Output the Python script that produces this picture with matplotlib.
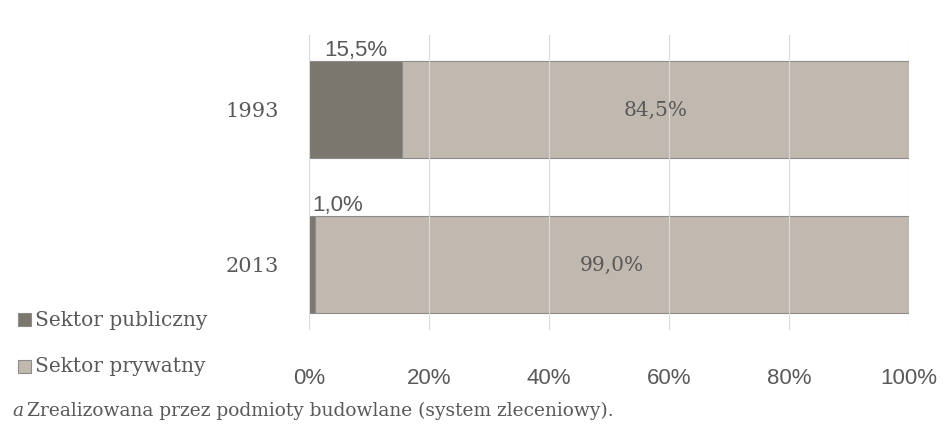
import matplotlib
matplotlib.use("Agg")
import matplotlib.pyplot as plt
import matplotlib.ticker as mticker
from matplotlib.patches import Rectangle

years = ["1993", "2013"]
publiczny = [15.5, 1.0]
prywatny = [84.5, 99.0]
series_names = ["Sektor publiczny", "Sektor prywatny"]
x_ticks = [0, 20, 40, 60, 80, 100]

DARK = "#7b766e"
LIGHT = "#c1b9af"
TEXT = "#595959"
SERIF = "DejaVu Serif"
SANS = "Liberation Sans"

fig = plt.figure(figsize=(9.44, 4.24), dpi=100)
ax = fig.add_axes([309 / 944, 1 - 330 / 424, 600 / 944, 295 / 424])

ypos = [1, 0]
h = 0.626
ax.barh(ypos, publiczny, height=h, color=DARK, edgecolor="#8c8c8c", linewidth=0.8, zorder=1)
ax.barh(ypos, prywatny, left=publiczny, height=h, color=LIGHT, edgecolor="#8c8c8c", linewidth=0.8, zorder=1)

for y, p, q in zip(ypos, publiczny, prywatny):
    lbl = f"{p:.1f}%".replace(".", ",")
    ax.text(max(p / 2, 0.0), y + h / 2, lbl, ha="center" if p > 5 else "left",
            va="bottom", fontsize=16, color=TEXT, family=SANS)
    ax.text(p + q / 2, y, f"{q:.1f}%".replace(".", ","), ha="center", va="center",
            fontsize=14.5, color=TEXT, family=SERIF)

ax.set_xlim(0, 100)
ax.set_ylim(-0.42, 1.484)
ax.set_xticks(x_ticks)
ax.xaxis.set_major_formatter(mticker.FuncFormatter(lambda v, _: f"{v:.0f}%"))
ax.set_yticks(ypos)
ax.set_yticklabels(years)
ax.tick_params(length=0, labelcolor=TEXT)
ax.tick_params(axis="x", pad=27, labelsize=16)
ax.tick_params(axis="y", pad=22, labelsize=15)
for lab in ax.get_xticklabels():
    lab.set_family(SANS)
for lab in ax.get_yticklabels():
    lab.set_family(SERIF)
ax.grid(axis="x", color="#d9d9d9", linewidth=0.8, zorder=2)
ax.set_axisbelow(False)
for s in ax.spines.values():
    s.set_visible(False)

# legend
for i, (name, col) in enumerate(zip(series_names, [DARK, LIGHT])):
    yc = 1 - (320 + 47 * i) / 424
    fig.patches.append(Rectangle((18 / 944, yc - 6 / 424), 13 / 944, 13 / 424,
                                 transform=fig.transFigure, facecolor=col,
                                 edgecolor="#8c8c8c", linewidth=0.8))
    fig.text(35 / 944, yc, name, ha="left", va="center", fontsize=14.5,
             color=TEXT, family=SERIF)

fig.text(12 / 944, 1 - 411 / 424, "a", style="italic", ha="left", va="center",
         fontsize=13.4, color=TEXT, family=SERIF)
fig.text(27 / 944, 1 - 411 / 424, "Zrealizowana przez podmioty budowlane (system zleceniowy).",
         ha="left", va="center", fontsize=13.4, color=TEXT, family=SERIF)

fig.savefig("out.png", dpi=100)
